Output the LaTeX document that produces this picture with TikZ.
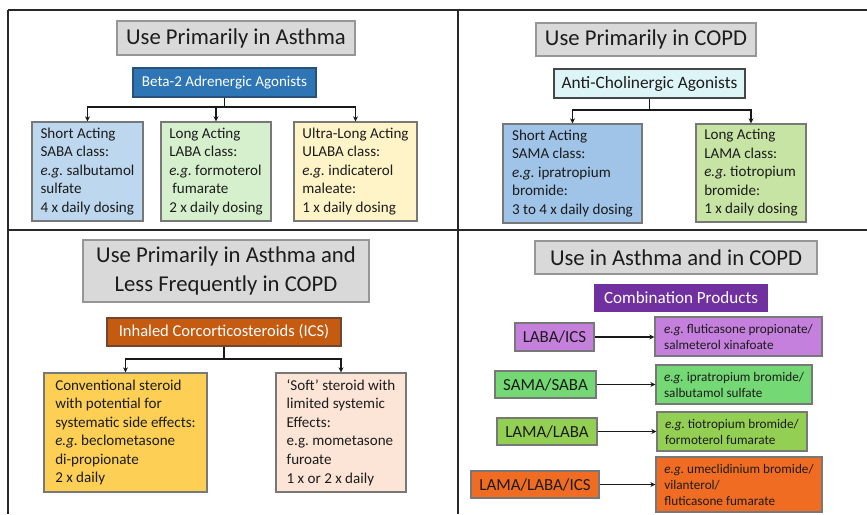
\documentclass[tikz,border=0pt]{standalone}
\usepackage{fontspec}
\setmainfont{Carlito}
\usetikzlibrary{arrows.meta}
\frenchspacing

\newlength{\du}
\setlength{\du}{0.75pt}

\definecolor{framecolor}{RGB}{40,40,40}
\definecolor{linkcolor}{RGB}{25,25,25}
\definecolor{edgegray}{RGB}{120,120,120}
\definecolor{inkcolor}{RGB}{28,28,28}
\definecolor{headfill}{RGB}{217,217,217}
\definecolor{headedge}{RGB}{150,150,150}
\definecolor{betafill}{RGB}{46,117,182}
\definecolor{betaedge}{RGB}{40,80,120}
\definecolor{sabafill}{RGB}{189,215,238}
\definecolor{labafill}{RGB}{214,240,206}
\definecolor{ulabafill}{RGB}{255,244,200}
\definecolor{antifill}{RGB}{222,245,247}
\definecolor{antiedge}{RGB}{70,70,70}
\definecolor{samafill}{RGB}{160,195,232}
\definecolor{lamafill}{RGB}{200,228,165}
\definecolor{icsfill}{RGB}{197,90,17}
\definecolor{icsedge}{RGB}{110,70,50}
\definecolor{convfill}{RGB}{253,208,85}
\definecolor{softfill}{RGB}{252,228,214}
\definecolor{combfill}{RGB}{112,48,160}
\definecolor{labaicsfill}{RGB}{197,127,220}
\definecolor{samasabafill}{RGB}{116,216,116}
\definecolor{lamalabafill}{RGB}{147,207,82}
\definecolor{triplefill}{RGB}{240,108,34}

\begin{document}
\begin{tikzpicture}[
frame/.style={draw=framecolor, line width=2\du},
headbox/.style={draw=headedge, fill=headfill, line width=1.5\du, inner sep=0pt, text=inkcolor, align=center, font=\fontsize{17}{21.8}\selectfont},
groupbox/.style={line width=1.2\du, inner sep=0pt},
drugbox/.style={draw=edgegray, line width=1.2\du, inner sep=0pt, text=inkcolor, align=left, font=\fontsize{11.3}{13.9}\selectfont},
combobox/.style={draw=edgegray, line width=1.2\du, inner sep=0pt, text=inkcolor, font=\fontsize{12.7}{15}\selectfont},
examplebox/.style={draw=edgegray, line width=1.2\du, inner sep=0pt, text=inkcolor, align=left, font=\fontsize{9.9}{12}\selectfont},
link/.style={draw=linkcolor, line width=1.5\du},
arrow/.style={link, -{Stealth[length=3.8pt,width=3.8pt]}},
]
\pgftransformxscale{1.000000}
\pgftransformyscale{-1.000000}
\useasboundingbox (0\du,0\du) rectangle (867\du,514\du);
% panel rules
\draw[frame] (8\du,10\du)--(867\du,10\du);
\draw[frame] (8\du,10\du)--(8\du,514\du);
\draw[frame] (8\du,230\du)--(867\du,230\du);
\draw[frame] (458\du,10\du)--(458\du,514\du);
% asthma panel
\node[headbox, minimum width=238\du, minimum height=34\du] (asthmaHead) at (236\du,38\du){Use Primarily in Asthma};
\node[groupbox, draw=betaedge, fill=betafill, text=white, font=\fontsize{11.3}{13.5}\selectfont, minimum width=183\du, minimum height=29\du] (betaAgonists) at (224.5\du,82.5\du){Beta-2 Adrenergic Agonists};
\node[drugbox, fill=sabafill, minimum width=111\du, minimum height=99\du] (sabaClass) at (87.5\du,171.5\du){Short Acting\\SABA class:\\\textit{e.g.} salbutamol\\sulfate\\4 x daily dosing};
\node[drugbox, fill=labafill, minimum width=110\du, minimum height=99\du] (labaClass) at (216\du,171.5\du){Long Acting\\LABA class:\\\textit{e.g.} formoterol\\\hspace*{3\du}fumarate\\2 x daily dosing};
\node[drugbox, fill=ulabafill, minimum width=123\du, minimum height=99\du] (ulabaClass) at (355.5\du,171.5\du){Ultra-Long Acting\\ULABA class:\\\textit{e.g.} indicaterol\\maleate:\\1 x daily dosing};
\coordinate (betaSplit) at (224.5\du,107\du);
\draw[link] (betaAgonists.south)--(betaSplit);
\draw[arrow] (betaSplit)-|(sabaClass.north);
\draw[arrow] (betaSplit)-|(labaClass.north);
\draw[arrow] (betaSplit)-|(ulabaClass.north);
% copd panel
\node[headbox, minimum width=220\du, minimum height=33\du] (copdHead) at (646\du,39.5\du){Use Primarily in COPD};
\node[groupbox, draw=antiedge, fill=antifill, text=inkcolor, font=\fontsize{13}{15}\selectfont, minimum width=191\du, minimum height=29\du] (antiCholinergic) at (649.5\du,83.5\du){Anti-Cholinergic Agonists};
\node[drugbox, fill=samafill, minimum width=139\du, minimum height=99\du] (samaClass) at (572.5\du,173.5\du){Short Acting\\SAMA class:\\\textit{e.g.} ipratropium\\bromide:\\3 to 4 x daily dosing};
\node[drugbox, fill=lamafill, minimum width=110\du, minimum height=98\du] (lamaClass) at (751\du,173\du){Long Acting\\LAMA class:\\\textit{e.g.} tiotropium\\bromide:\\1 x daily dosing};
\coordinate (antiSplit) at (649.5\du,110\du);
\draw[link] (antiCholinergic.south)--(antiSplit);
\draw[arrow] (antiSplit)-|(samaClass.north);
\draw[arrow] (antiSplit)-|(lamaClass.north);
% inhaled steroids panel
\node[headbox, minimum width=286\du, minimum height=62\du] (steroidHead) at (226\du,271\du){Use Primarily in Asthma and\\Less Frequently in COPD};
\node[groupbox, draw=icsedge, fill=icsfill, text=white, font=\fontsize{12.4}{15}\selectfont, minimum width=234\du, minimum height=28\du] (icsGroup) at (224\du,332\du){Inhaled Corcorticosteroids (ICS)};
\node[drugbox, fill=convfill, minimum width=163\du, minimum height=119\du] (convSteroid) at (125.5\du,432.5\du){Conventional steroid\\with potential for\\systematic side effects:\\\textit{e.g.} beclometasone\\di-propionate\\2 x daily};
\node[drugbox, fill=softfill, minimum width=130\du, minimum height=119\du] (softSteroid) at (341\du,432.5\du){‘Soft’ steroid with\\limited systemic\\Effects:\\e.g. mometasone\\furoate\\1 x or 2 x daily};
\coordinate (icsSplit) at (224\du,359\du);
\draw[link] (icsGroup.south)--(icsSplit);
\draw[arrow] (icsSplit)-|(convSteroid.north);
\draw[arrow] (icsSplit)-|(softSteroid.north);
% combination panel
\node[headbox, minimum width=282\du, minimum height=33\du] (bothHead) at (676\du,257.5\du){Use in Asthma and in COPD};
\node[groupbox, draw=combfill, fill=combfill, text=white, font=\fontsize{12.8}{15}\selectfont, minimum width=172\du, minimum height=26\du] (combProducts) at (681\du,298\du){Combination Products};
\node[combobox, fill=labaicsfill, minimum width=79\du, minimum height=28\du] (labaIcs) at (554.5\du,337\du){LABA/ICS};
\node[examplebox, fill=labaicsfill, minimum width=167\du, minimum height=39\du] (labaIcsDrug) at (738.5\du,336.5\du){\textit{e.g.} fluticasone propionate/\\salmeterol xinafoate};
\node[combobox, fill=samasabafill, minimum width=101\du, minimum height=27\du] (samaSaba) at (545.5\du,384.5\du){SAMA/SABA};
\node[examplebox, fill=samasabafill, minimum width=156\du, minimum height=39\du] (samaSabaDrug) at (734\du,384.5\du){\textit{e.g.} ipratropium bromide/\\salbutamol sulfate};
\node[combobox, fill=lamalabafill, minimum width=100\du, minimum height=27\du] (lamaLaba) at (547\du,431.5\du){LAMA/LABA};
\node[examplebox, fill=lamalabafill, minimum width=150\du, minimum height=39\du] (lamaLabaDrug) at (732\du,431.5\du){\textit{e.g.} tiotropium bromide/\\formoterol fumarate};
\node[combobox, fill=triplefill, minimum width=128\du, minimum height=27\du] (tripleCombo) at (535\du,484.5\du){LAMA/LABA/ICS};
\node[examplebox, fill=triplefill, minimum width=166\du, minimum height=55\du] (tripleDrug) at (739\du,484.5\du){\textit{e.g.} umeclidinium bromide/\\vilanterol/\\fluticasone fumarate};
\draw[arrow] (labaIcs.east)--(labaIcs.east-|labaIcsDrug.west);
\draw[arrow] (samaSaba.east)--(samaSaba.east-|samaSabaDrug.west);
\draw[arrow] (lamaLaba.east)--(lamaLaba.east-|lamaLabaDrug.west);
\draw[arrow] (tripleCombo.east)--(tripleCombo.east-|tripleDrug.west);
\end{tikzpicture}
\end{document}
